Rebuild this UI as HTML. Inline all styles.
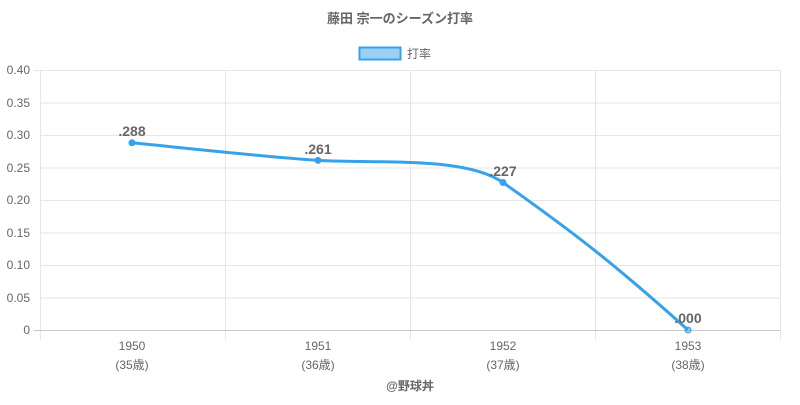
<!DOCTYPE html>
<html><head><meta charset="utf-8"><style>
body{margin:0;background:#fff;}
svg text{font-family:"Liberation Sans","Noto Sans CJK JP",sans-serif;}
</style></head><body>
<svg width="800" height="400" viewBox="0 0 800 400" xmlns="http://www.w3.org/2000/svg">
<text x="400" y="23" text-anchor="middle" font-size="13" font-weight="bold" fill="#666">藤田 宗一のシーズン打率</text>
<rect x="359.5" y="47.5" width="41" height="12" fill="rgba(54,162,235,0.5)" stroke="#36a2eb" stroke-width="2"/>
<text x="407" y="58" font-size="12" fill="#666">打率</text>
<g stroke="#e6e6e6" stroke-width="1">
<line x1="40" y1="70.5" x2="780" y2="70.5"/>
<line x1="40" y1="103" x2="780" y2="103"/>
<line x1="40" y1="135.5" x2="780" y2="135.5"/>
<line x1="40" y1="168" x2="780" y2="168"/>
<line x1="40" y1="200.5" x2="780" y2="200.5"/>
<line x1="40" y1="233" x2="780" y2="233"/>
<line x1="40" y1="265.5" x2="780" y2="265.5"/>
<line x1="40" y1="298" x2="780" y2="298"/>
<line x1="40.5" y1="70" x2="40.5" y2="340"/>
<line x1="225.5" y1="70" x2="225.5" y2="340"/>
<line x1="410.5" y1="70" x2="410.5" y2="340"/>
<line x1="595.5" y1="70" x2="595.5" y2="340"/>
<line x1="780.5" y1="70" x2="780.5" y2="340"/>
<line x1="34" y1="70.5" x2="40" y2="70.5"/>
</g>
<line x1="34" y1="330.5" x2="780" y2="330.5" stroke="#c8c8c8"/>
<g font-size="12" fill="#666" text-anchor="end">
<text x="30" y="74">0.40</text><text x="30" y="107">0.35</text><text x="30" y="139">0.30</text>
<text x="30" y="172">0.25</text><text x="30" y="204">0.20</text><text x="30" y="237">0.15</text>
<text x="30" y="269">0.10</text><text x="30" y="302">0.05</text><text x="30" y="334">0</text>
</g>
<g font-size="12" fill="#666" text-anchor="middle">
<text x="132" y="350">1950</text><text x="132" y="369">(35歳)</text>
<text x="318" y="350">1951</text><text x="318" y="369">(36歳)</text>
<text x="503" y="350">1952</text><text x="503" y="369">(37歳)</text>
<text x="688" y="350">1953</text><text x="688" y="369">(38歳)</text>
<text x="410" y="390" font-weight="bold">@野球丼</text>
</g>
<path d="M132,142.8 C194,149 256,156 318,160.4 C380,164 465,156 503,182.5 C570,230 610,260 688,330" fill="none" stroke="#36a2eb" stroke-width="3"/>
<g fill="#36a2eb" stroke="#36a2eb">
<circle cx="132" cy="142.8" r="3"/><circle cx="318" cy="160.4" r="3"/>
<circle cx="503" cy="182.5" r="3"/><circle cx="688" cy="330" r="3" fill="rgba(54,162,235,0.5)"/>
</g>
<g font-size="14" font-weight="bold" fill="#666" text-anchor="middle">
<text x="132" y="136">.288</text><text x="318" y="154">.261</text>
<text x="503" y="176">.227</text><text x="688" y="323">.000</text>
</g>
</svg>
</body></html>
